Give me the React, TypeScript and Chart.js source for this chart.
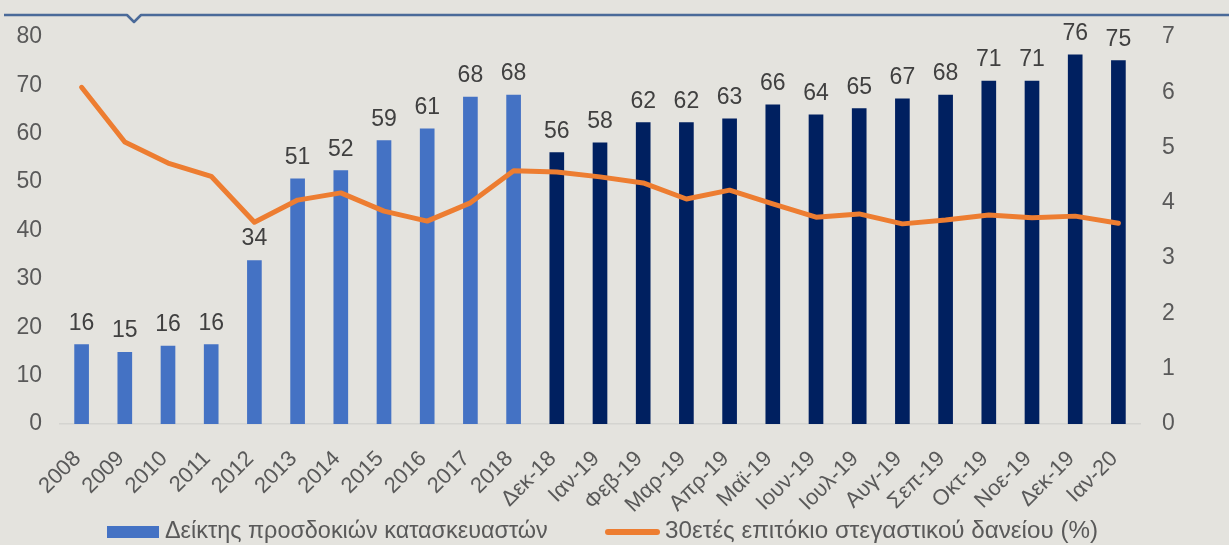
import React, { useEffect, useRef } from "react";
import { Chart, registerables } from "chart.js";

Chart.register(...registerables);

const categories = [
  "2008", "2009", "2010", "2011", "2012", "2013", "2014", "2015", "2016", "2017", "2018",
  "Δεκ-18", "Ιαν-19", "Φεβ-19", "Μαρ-19", "Απρ-19", "Μαϊ-19", "Ιουν-19", "Ιουλ-19",
  "Αυγ-19", "Σεπ-19", "Οκτ-19", "Νοε-19", "Δεκ-19", "Ιαν-20",
];

const builderExpectations = [
  16.4, 14.8, 16.1, 16.4, 33.8, 50.7, 52.4, 58.6, 61.0, 67.6, 68.0,
  56.1, 58.1, 62.3, 62.3, 63.1, 66.0, 63.9, 65.2, 67.2, 68.0, 70.9, 70.9, 76.3, 75.1,
];

const barValueLabels = [
  "16", "15", "16", "16", "34", "51", "52", "59", "61", "68", "68",
  "56", "58", "62", "62", "63", "66", "64", "65", "67", "68", "71", "71", "76", "75",
];

const mortgageRate = [
  6.09, 5.10, 4.72, 4.48, 3.65, 4.05, 4.18, 3.85, 3.67, 4.00, 4.58,
  4.56, 4.47, 4.36, 4.07, 4.23, 3.98, 3.74, 3.80, 3.62, 3.69, 3.78, 3.73, 3.76, 3.63,
];

const annualCount = 11;

const barLegend = "Δείκτης προσδοκιών κατασκευαστών";
const lineLegend = "30ετές επιτόκιο στεγαστικού δανείου (%)";

const LIGHT_BLUE = "#4472c4";
const NAVY = "#002060";
const ORANGE = "#ed7d31";
const BG = "#e4e3de";
const TEXT = "#595959";
const FONT = "'Liberation Sans', Arial, sans-serif";

const barLabelPlugin = {
  id: "barLabels",
  afterDatasetsDraw(chart: any) {
    const meta = chart.getDatasetMeta(0);
    const ctx = chart.ctx;
    ctx.save();
    ctx.font = `23px ${FONT}`;
    ctx.fillStyle = "#404040";
    ctx.textAlign = "center";
    ctx.textBaseline = "alphabetic";
    meta.data.forEach((el: any, i: number) => {
      ctx.fillText(barValueLabels[i], el.x, el.y - 15);
    });
    ctx.restore();
  },
};

export default function App() {
  const canvasRef = useRef<HTMLCanvasElement | null>(null);

  useEffect(() => {
    if (!canvasRef.current) return;
    const chart = new Chart(canvasRef.current, {
      type: "bar",
      data: {
        labels: categories,
        datasets: [
          {
            type: "bar",
            label: barLegend,
            data: builderExpectations,
            backgroundColor: categories.map((_, i) => (i < annualCount ? LIGHT_BLUE : NAVY)),
            barThickness: 14,
            yAxisID: "y",
            order: 2,
          },
          {
            type: "line",
            label: lineLegend,
            data: mortgageRate,
            borderColor: ORANGE,
            backgroundColor: ORANGE,
            borderWidth: 5,
            pointRadius: 0,
            tension: 0,
            borderCapStyle: "round",
            borderJoinStyle: "round",
            yAxisID: "y1",
            order: 1,
          } as any,
        ],
      },
      options: {
        responsive: false,
        animation: false,
        layout: { padding: { top: 37, left: 0, right: 0, bottom: 31 } },
        plugins: {
          legend: { display: false },
          tooltip: { enabled: false },
        },
        scales: {
          x: {
            grid: { display: false, drawTicks: false },
            border: { display: true, color: "#d4d4d0", width: 1.5 },
            ticks: {
              color: TEXT,
              font: { family: FONT, size: 22 },
              minRotation: 45,
              maxRotation: 45,
              autoSkip: false,
              padding: 22,
              labelOffset: -4,
            },
            afterFit(scale: any) {
              scale.height = 90;
            },
          },
          y: {
            position: "left",
            min: 0,
            max: 80,
            grid: { display: false, drawTicks: false },
            border: { display: false },
            ticks: {
              stepSize: 10,
              color: TEXT,
              font: { family: FONT, size: 23 },
              padding: 18,
            },
            afterFit(scale: any) {
              scale.width = 60;
            },
          },
          y1: {
            position: "right",
            min: 0,
            max: 7,
            grid: { display: false, drawTicks: false },
            border: { display: false },
            ticks: {
              stepSize: 1,
              color: TEXT,
              font: { family: FONT, size: 23 },
              padding: 22,
            },
            afterFit(scale: any) {
              scale.width = 89;
            },
          },
        },
      },
      plugins: [barLabelPlugin],
    });
    return () => chart.destroy();
  }, []);

  const legendText: React.CSSProperties = {
    position: "absolute",
    top: 516,
    fontFamily: FONT,
    lineHeight: "28px",
    color: TEXT,
    whiteSpace: "nowrap",
  };

  return (
    <div
      style={{
        position: "fixed",
        left: 0,
        top: 0,
        width: 1229,
        height: 545,
        background: BG,
        overflow: "hidden",
      }}
    >
      <svg
        width={1229}
        height={40}
        style={{ position: "absolute", left: 0, top: 0 }}
      >
        <path
          d="M4 15 L127 15 L134 22 L141 15 L1229 15"
          fill="none"
          stroke="#4a6a99"
          strokeWidth={2.5}
          strokeLinejoin="round"
        />
      </svg>
      <canvas
        ref={canvasRef}
        width={1229}
        height={545}
        style={{ position: "absolute", left: 0, top: 0 }}
      />
      <div
        style={{
          position: "absolute",
          left: 107,
          top: 526,
          width: 52,
          height: 12,
          background: LIGHT_BLUE,
        }}
      />
      <div style={{ ...legendText, left: 165, fontSize: 23.4 }}>{barLegend}</div>
      <div
        style={{
          position: "absolute",
          left: 605,
          top: 529,
          width: 55,
          height: 6,
          borderRadius: 3,
          background: ORANGE,
        }}
      />
      <div style={{ ...legendText, left: 665, fontSize: 24.2 }}>{lineLegend}</div>
    </div>
  );
}
